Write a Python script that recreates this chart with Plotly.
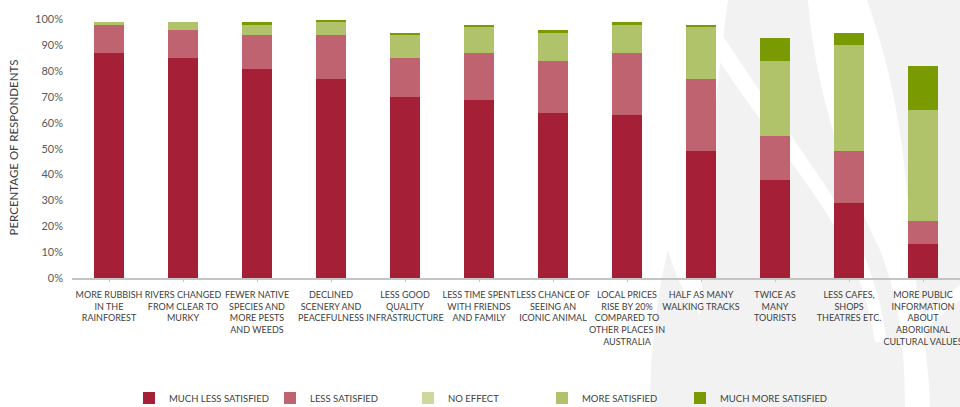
import plotly.graph_objects as go

categories = [
    "MORE RUBBISH<br>IN THE<br>RAINFOREST",
    "RIVERS CHANGED<br>FROM CLEAR TO<br>MURKY",
    "FEWER NATIVE<br>SPECIES AND<br>MORE PESTS<br>AND WEEDS",
    "DECLINED<br>SCENERY AND<br>PEACEFULNESS",
    "LESS GOOD<br>QUALITY<br>INFRASTRUCTURE",
    "LESS TIME SPENT<br>WITH FRIENDS<br>AND FAMILY",
    "LESS CHANCE OF<br>SEEING AN<br>ICONIC ANIMAL",
    "LOCAL PRICES<br>RISE BY 20%<br>COMPARED TO<br>OTHER PLACES IN<br>AUSTRALIA",
    "HALF AS MANY<br>WALKING TRACKS",
    "TWICE AS<br>MANY<br>TOURISTS",
    "LESS CAFES,<br>SHOPS<br>THEATRES ETC.",
    "MORE PUBLIC<br>INFORMATION<br>ABOUT<br>ABORIGINAL<br>CULTURAL VALUES",
]

much_less_satisfied = [87, 85, 81, 77, 70, 69, 64, 63, 49, 38, 29, 13]
less_satisfied = [11, 11, 13, 17, 15, 18, 20, 24, 28, 17, 20, 9]
no_effect = [0, 0, 0, 0, 0, 0, 0, 0, 0, 0, 0, 0]
more_satisfied = [1, 3, 4, 5, 9, 10, 11, 11, 20, 29, 41, 43]
much_more_satisfied = [0, 0, 1, 1, 1, 1, 1, 1, 1, 9, 5, 17]

series_names = ["MUCH LESS SATISFIED", "LESS SATISFIED", "NO EFFECT",
                "MORE SATISFIED", "MUCH MORE SATISFIED"]
series_values = [much_less_satisfied, less_satisfied, no_effect,
                 more_satisfied, much_more_satisfied]
series_colors = ["#A51F37", "#C06371", "#CDD89E", "#B0C26A", "#7A9A01"]

y_ticks = [0, 10, 20, 30, 40, 50, 60, 70, 80, 90, 100]

W, H = 960, 407
L, R, T, B = 72, 0, 17, 129
pw, ph = W - L - R, H - T - B

# left pixel of each legend entry
legend_x_px = [129, 270, 408, 542, 680]

fig = go.Figure()
legend_keys = ["legend", "legend2", "legend3", "legend4", "legend5"]
for i, (name, vals, col) in enumerate(zip(series_names, series_values, series_colors)):
    fig.add_trace(go.Bar(
        x=list(range(len(categories))), y=vals, name=name,
        marker=dict(color=col, line=dict(width=0)),
        width=0.405, legend=legend_keys[i],
    ))

# decorative flame watermark in the background (pixel -> paper coords)
def P(x, y):
    return f"{(x - L) / pw:.4f},{(H - B - y) / ph:.4f}"

wm = [
    ("#F2F2F2",
     f"M{P(728,0)} L{P(808,0)} C{P(815,90)} {P(845,180)} {P(880,250)} "
     f"C{P(895,290)} {P(905,330)} {P(905,407)} L{P(650,407)} "
     f"C{P(650,350)} {P(658,290)} {P(668,250)} C{P(676,280)} {P(688,300)} {P(700,315)} "
     f"C{P(706,220)} {P(712,120)} {P(728,0)} Z"),
    ("#F2F2F2",
     f"M{P(867,0)} L{P(960,0)} L{P(960,407)} L{P(930,407)} "
     f"C{P(928,340)} {P(915,290)} {P(910,230)} C{P(905,150)} {P(895,80)} {P(867,0)} Z"),
    ("#FFFFFF",
     f"M{P(720,62)} C{P(760,122)} {P(805,177)} {P(835,227)} C{P(855,262)} {P(868,300)} {P(875,342)} "
     f"L{P(887,342)} C{P(881,296)} {P(867,256)} {P(847,220)} C{P(816,168)} {P(770,108)} {P(723,36)} Z"),
    ("#FFFFFF",
     f"M{P(900,345)} C{P(920,320)} {P(940,300)} {P(960,285)} L{P(960,300)} "
     f"C{P(942,312)} {P(922,332)} {P(906,352)} Z"),
]
shapes = [dict(type="path", path=p, xref="paper", yref="paper",
               fillcolor=c, line=dict(width=0), layer="below")
          for c, p in wm]

legend_style = dict(
    orientation="h", xref="container", yref="container",
    y=0.058, xanchor="left", yanchor="top",
    font=dict(size=9.5, color="#404040"),
    itemsizing="constant", bgcolor="rgba(0,0,0,0)",
)
legends = {k: dict(legend_style, x=xp / W) for k, xp in zip(legend_keys, legend_x_px)}

fig.update_layout(
    width=W, height=H,
    margin=dict(l=L, r=R, t=T, b=B, autoexpand=False),
    barmode="stack",
    plot_bgcolor="rgba(0,0,0,0)",
    paper_bgcolor="white",
    font=dict(family="Lato", color="#404040"),
    shapes=shapes,
    showlegend=True,
    **legends,
)
fig.update_xaxes(
    tickmode="array", tickvals=list(range(len(categories))), ticktext=categories,
    range=[-0.5, 11.5], showline=True, linecolor="#C4C4C4", linewidth=2,
    ticks="outside", ticklen=2, tickcolor="#C4C4C4", tickwidth=1,
    showgrid=False, zeroline=False, tickangle=0,
    tickfont=dict(size=9, color="#404040"),
    ticklabelstandoff=5, ticklabeloverflow="allow",
)
fig.update_yaxes(
    range=[0, 101], tickvals=y_ticks, ticktext=[f"{v}%" for v in y_ticks],
    showgrid=False, zeroline=False, showline=False,
    tickfont=dict(size=11, color="#595959"),
    ticklabelstandoff=8,
    title=dict(text="PERCENTAGE OF RESPONDENTS", font=dict(size=11.5, color="#404040"), standoff=14),
)

fig.write_html("out.html", config={"displayModeBar": False},
               post_script="document.body.style.margin='0';document.body.style.overflow='hidden';")
